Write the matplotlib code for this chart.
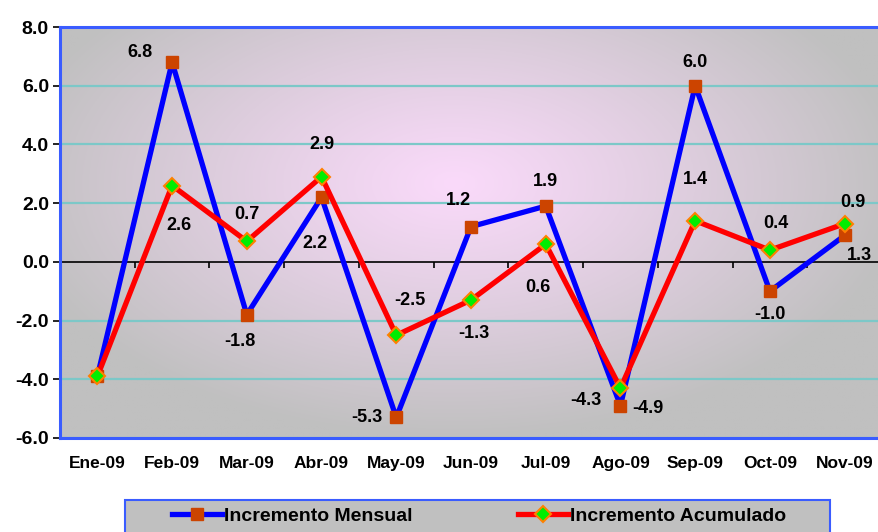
import numpy as np
import matplotlib
matplotlib.use("Agg")
import matplotlib.pyplot as plt
from matplotlib.colors import to_rgb
from matplotlib.patches import Rectangle

plt.rcParams['font.family'] = ['Liberation Sans', 'DejaVu Sans']

meses = ["Ene-09", "Feb-09", "Mar-09", "Abr-09", "May-09", "Jun-09",
         "Jul-09", "Ago-09", "Sep-09", "Oct-09", "Nov-09"]
mensual = [-3.9, 6.8, -1.8, 2.2, -5.3, 1.2, 1.9, -4.9, 6.0, -1.0, 0.9]
acumulado = [-3.9, 2.6, 0.7, 2.9, -2.5, -1.3, 0.6, -4.3, 1.4, 0.4, 1.3]
yticks = [-6.0, -4.0, -2.0, 0.0, 2.0, 4.0, 6.0, 8.0]

# label offsets (points) relative to each point; None = no label
off_m = [None, (-23, 7), (-5, -19), (-5, -33), (-21, 0), (-9, 19), (0, 18),
         (20, -2), (0, 17), (0, -17), (6, 24)]
off_a = [None, (5, -29), (0, 19), (0, 23), (10, 25), (2, -24), (-6, -31),
         (-25, -9), (0, 30), (4, 19), (11, -23)]

W, H = 879, 532
fig = plt.figure(figsize=(W / 100, H / 100), dpi=100)
left, right, top, bottom = 60, 882, 27, 438
ax = fig.add_axes([left / W, 1 - bottom / H, (right - left) / W, (bottom - top) / H])

x = np.arange(len(meses))
ax.set_xlim(-0.5, len(meses) - 0.5)
ax.set_ylim(yticks[0], yticks[-1])

# radial gradient background
nx, ny = 400, 250
gx = np.linspace(0, 1, nx)
gy = np.linspace(0, 1, ny)
GX, GY = np.meshgrid(gx, gy)
cx, cy = 0.48, 0.62
r = np.sqrt(((GX - cx) / 0.55) ** 2 + ((GY - cy) / 0.62) ** 2)
r = np.clip(r, 0, 1) ** 1.1
c0 = np.array(to_rgb("#FADAFA"))
c1 = np.array(to_rgb("#C0C0C0"))
img = c0[None, None, :] * (1 - r[..., None]) + c1[None, None, :] * r[..., None]
ax.imshow(img, extent=[0, 1, 0, 1], transform=ax.transAxes, origin='lower',
          aspect='auto', zorder=0)

for yv in yticks:
    if yv != 0:
        ax.axhline(yv, color="#7CC8C8", lw=1.6, zorder=1)
ax.axhline(0, color="black", lw=1.2, zorder=2)

ax.plot(x, mensual, color="#0000FF", lw=3.8, marker='s', ms=8,
        mfc="#CC4400", mec="#CC4400", zorder=4, label="Incremento Mensual")
ax.plot(x, acumulado, color="#FF0000", lw=3.8, marker='D', ms=8,
        mfc="#00EE00", mec="#FF8000", mew=1.5, zorder=5, label="Incremento Acumulado")

for xi, v, o in zip(x, mensual, off_m):
    if o is not None:
        ax.annotate(f"{v:.1f}", (xi, v), xytext=o, textcoords='offset points',
                    ha='center', va='center', fontsize=13, fontweight='bold', zorder=6)
for xi, v, o in zip(x, acumulado, off_a):
    if o is not None:
        ax.annotate(f"{v:.1f}", (xi, v), xytext=o, textcoords='offset points',
                    ha='center', va='center', fontsize=13, fontweight='bold', zorder=6)

# axes styling
for s in ['left', 'top', 'bottom']:
    ax.spines[s].set_color("#3A5CFF")
    ax.spines[s].set_linewidth(2.2)
ax.spines['right'].set_visible(False)
ax.set_yticks(yticks)
ax.set_yticklabels([f"{v:.1f}" for v in yticks], fontsize=14, fontweight='bold')
ax.tick_params(axis='y', length=5, width=1.2, color='black', pad=3)
ax.set_xticks(x)
ax.set_xticklabels(meses, fontsize=12.5, fontweight='bold')
ax.tick_params(axis='x', length=0, pad=13)

# zero-line category ticks
frac0 = (0 - yticks[0]) / (yticks[-1] - yticks[0])
sec = ax.secondary_xaxis(frac0)
sec.set_xticks(np.arange(0.5, len(meses) - 0.5, 1.0))
sec.set_xticklabels([])
sec.spines['bottom'].set_visible(False)
sec.tick_params(axis='x', direction='out', length=4, width=1.2, color='black')

# legend frame
fig.patches.append(Rectangle((125 / W, -0.05), 705 / W, 0.05 + (H - 500) / H,
                             transform=fig.transFigure, facecolor="#C0C0C0",
                             edgecolor="#3A5CFF", lw=1.5, zorder=0))
leg = fig.legend(loc='center', bbox_to_anchor=(479 / W, 1 - 516 / H),
                 ncol=2, frameon=False,
                 prop={'family': ['Liberation Sans', 'DejaVu Sans'],
                       'weight': 'bold', 'size': 14},
                 handlelength=2.6, handletextpad=0.1, borderpad=0.0,
                 columnspacing=5.4, borderaxespad=0)

fig.savefig("out.png", dpi=100)
